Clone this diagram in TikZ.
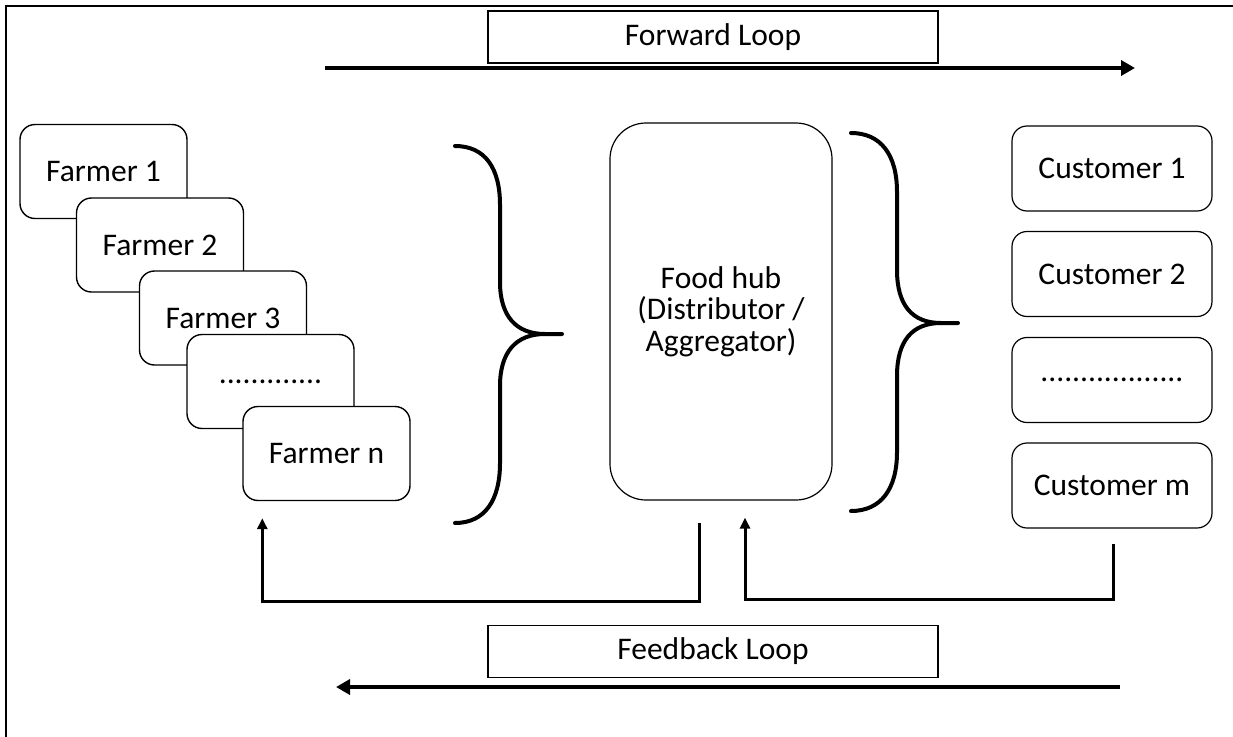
\documentclass[tikz,border=0pt]{standalone}
\usepackage{fontspec}
\setmainfont{Carlito}
\usetikzlibrary{arrows.meta,calc}

\begin{document}
\begin{tikzpicture}[x=1pt,y=-1pt,
  font=\fontsize{31.5}{31.5}\selectfont,
  tile/.style={draw, line width=1.4pt, rounded corners=15pt, fill=white,
    minimum width=167pt, minimum height=94pt, inner sep=0pt},
  custbox/.style={draw, line width=1.2pt, rounded corners=15pt, fill=white,
    minimum width=200pt, minimum height=85pt, inner sep=0pt},
  hubbox/.style={draw, line width=1.2pt, rounded corners=36pt,
    minimum width=222pt, minimum height=377pt, inner sep=0pt, align=center},
  loopbox/.style={draw, line width=1.3pt, minimum width=450pt,
    minimum height=52pt, inner sep=0pt},
  bigarrow/.style={line width=4.5pt, -{Triangle[length=14pt,width=15pt]}},
  fbarrow/.style={line width=3pt, -{Triangle[length=11pt,width=10pt]}},
  bracepath/.style={line width=4pt, line cap=round}
]
\clip (0,0) rectangle (1233,736);
\fill[white] (0,0) rectangle (1233,736);

% outer frame (its right and bottom sides run past the page edge)
\draw[line width=2.5pt] (6,6) rectangle (1245,750);

% loop labels and their direction arrows
\node[loopbox] (fwd) at (713,37) {Forward Loop};
\coordinate (fwdS) at (325,68);
\coordinate (fwdE) at (1135,68);
\draw[bigarrow] (fwdS) -- (fwdE);

\node[loopbox] (fb) at (713,651.5) {Feedback Loop};
\coordinate (fbS) at (1120,687);
\coordinate (fbE) at (336,687);
\draw[bigarrow] (fbS) -- (fbE);

% stacked farmer cards
\node[tile] (f1) at (103.5,171.5) {Farmer 1};
\node[tile] (f2) at (160,245) {Farmer 2};
\node[tile] (f3) at (223,318) {Farmer 3};
\node[tile] (fd) at (270.5,381.5) {.............};
\node[tile] (fn) at (326.5,453.5) {Farmer n};

% food hub
\node[hubbox] (hub) at (721,311.5) {Food hub\\(Distributor /\\Aggregator)};

% customers
\node[custbox] (c1) at (1112,168.5) {Customer 1};
\node[custbox] (c2) at (1112,274) {Customer 2};
\node[custbox] (cd) at (1112,380) {..................};
\node[custbox] (cm) at (1112,485.5) {Customer m};

% curly braces
\draw[bracepath] (455,146) .. controls (485,146) and (500,168) .. (500,205)
  -- (500,282) .. controls (500,316) and (516,334) .. (545,334) -- (562,334);
\draw[bracepath] (455,523) .. controls (485,523) and (500,500) .. (500,463)
  -- (500,386) .. controls (500,352) and (516,334) .. (545,334);

\draw[bracepath] (851,133) .. controls (881,133) and (897,155) .. (897,192)
  -- (897,270) .. controls (897,305) and (912,323) .. (941,323) -- (958,323);
\draw[bracepath] (851,511) .. controls (881,511) and (897,489) .. (897,452)
  -- (897,376) .. controls (897,341) and (912,323) .. (941,323);

% feedback connectors: hub -> farmers, customers -> hub
\coordinate (hubOut) at ($(hub.south)+(-22,22)$);
\coordinate (fnIn) at ($(fn.south west)+(20,17)$);
\draw[fbarrow] (hubOut) -- (hubOut |- 0,601) -- (fnIn |- 0,601) -- (fnIn);

\coordinate (cmOut) at ($(cm.south)+(1,15)$);
\coordinate (hubIn) at ($(hub.south)+(24,17)$);
\draw[fbarrow] (cmOut) -- (cmOut |- 0,599) -- (hubIn |- 0,599) -- (hubIn);
\end{tikzpicture}
\end{document}
